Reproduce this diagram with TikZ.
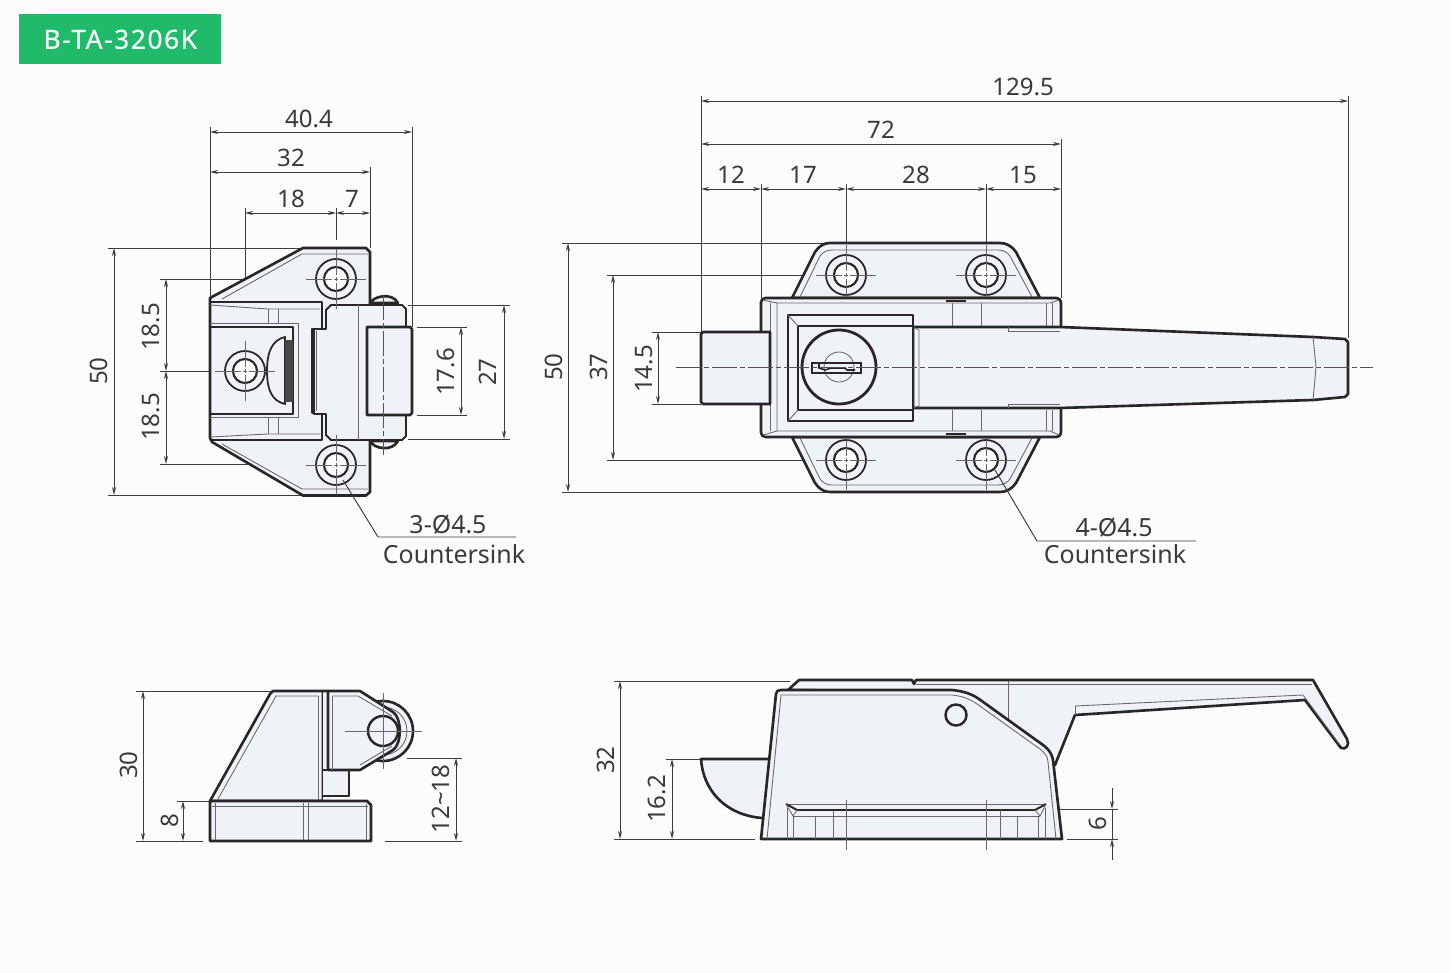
\documentclass[tikz,border=0pt]{standalone}
\usepackage{fontspec}
\setmainfont{Noto Sans}
\usetikzlibrary{arrows.meta}
\definecolor{inkc}{HTML}{2A2627}
\definecolor{partc}{HTML}{EFF3F7}
\definecolor{greenc}{HTML}{1FBB6B}
\definecolor{textc}{HTML}{3A3A3A}
\tikzset{
  partline/.style={draw=inkc,line width=1.5pt,line join=round,fill=partc},
  heavyline/.style={draw=inkc,line width=1.5pt,line join=round},
  thinline/.style={draw=inkc!70,line width=0.5pt},
  extline/.style={draw=inkc!90,line width=0.55pt},
  dimtip/.style={-{Stealth[length=4.6pt,width=2.3pt]}},
  dimline/.style={draw=inkc!90,line width=0.55pt,{Stealth[length=4.6pt,width=2.3pt]}-{Stealth[length=4.6pt,width=2.3pt]}},
  centerline/.style={draw=inkc!80,line width=0.5pt,dash pattern=on 14pt off 2pt on 2.5pt off 2pt},
  dimtext/.style={text=textc,font=\fontsize{13.7}{15}\selectfont,inner sep=0pt},
  dimtextv/.style={dimtext,rotate=90},
  sinktext/.style={text=textc,font=\fontsize{14.2}{16}\selectfont,inner sep=0pt}
}
\newcommand{\boltHole}[2]{
  \draw[draw=inkc,line width=1pt,fill=partc] (#1,#2) circle [radius=20];
  \draw[draw=inkc,line width=1.2pt,fill=white] (#1,#2) circle [radius=12];
  \draw[thinline] (#1-30,#2) -- (#1-4,#2) (#1-2,#2) -- (#1+2,#2) (#1+4,#2) -- (#1+30,#2);
  \draw[thinline] (#1,#2-30) -- (#1,#2-4) (#1,#2-2) -- (#1,#2+2) (#1,#2+4) -- (#1,#2+30);
}
\begin{document}
\begin{tikzpicture}[x=0.02cm,y=-0.02cm]
\useasboundingbox (0,0) rectangle (1450,973);
\fill[white!99!black] (0,0) rectangle (1450,973);

% part number
\node[fill=greenc,text=white,minimum width=4.04cm,minimum height=1cm,inner sep=0pt,anchor=north west,font=\fontsize{15}{16}\selectfont] (tag) at (19,14) {\addfontfeature{LetterSpace=6,FakeBold=0.4}B-TA-3206K};

% left view, extension lines
\draw[extline] (210,127) -- (210,298);
\draw[extline] (412,127) -- (412,327);
\draw[extline] (370,167) -- (370,248);
\draw[extline] (245,208) -- (245,350);
\draw[extline] (336,208) -- (336,240);
\draw[extline] (108,248) -- (303,248);
\draw[extline] (108,495) -- (303,495);
\draw[extline] (160,279) -- (325,279);
\draw[extline] (160,371) -- (210,371);
\draw[extline] (160,464) -- (315,464);
\draw[extline] (408,305) -- (510,305);
\draw[extline] (408,439) -- (510,439);
\draw[extline] (417,327) -- (467,327);
\draw[extline] (417,415) -- (467,415);

% left view
\draw[partline] (210,298) -- (303,248) -- (366,248) -- (370,252) -- (370,492) -- (366,495.5) -- (303,495.5) -- (212,442) -- (210,438) -- cycle;
\draw[thinline] (222,299) -- (302,254) -- (368,254);
\draw[thinline] (222,444) -- (302,489) -- (368,489);
\draw[heavyline] (210,302) -- (322,302) -- (322,329) -- (312,329) -- (312,413) -- (322,413) -- (322,440) -- (210,440);
\draw[heavyline] (210,327) -- (293,327) -- (293,414) -- (210,414);
\draw[thinline] (210,305) -- (268,309) -- (320,309);
\draw[thinline] (210,323) -- (298,323) -- (298,417) -- (210,417);
\draw[thinline] (210,437) -- (268,434) -- (320,434);
\draw[thinline] (268,309) -- (268,323) (278,309) -- (278,323) (268,417) -- (268,434) (278,417) -- (278,434);
\fill[partc] (328,306) rectangle (404,438);
\draw[heavyline,fill=partc] (370,303) .. controls (374,296) and (392,292) .. (398,303) -- cycle;
\draw[heavyline,fill=partc] (370,441) .. controls (374,449) and (392,452) .. (398,441) -- cycle;
\draw[partline,line width=1.1pt] (326,329) -- (326,310) -- (331,305) -- (402,305) -- (406,309) -- (406,436) -- (402,440) -- (331,440) -- (326,435) -- (326,414) -- (314,414) -- (314,329) -- cycle;
\draw[thinline] (316,331) -- (316,411);
\draw[thinline] (358,305) -- (358,440);
\draw[partline] (367,327) -- (410,327) -- (412,329) -- (412,413) -- (410,415) -- (367,415) -- cycle;
\draw[centerline] (383,295) -- (383,455);
\draw[heavyline,line width=1pt,fill=partc] (285,337) .. controls (272,340) and (267,352) .. (267,371) .. controls (267,390) and (272,401) .. (285,404) -- cycle;
\fill[inkc!85] (285,340) rectangle (293,402);
\boltHole{336}{279}
\boltHole{336}{465}
\boltHole{245}{371}

% left view, dimensions
\draw[dimline] (210,132) -- (412,132);
\draw[dimline] (210,172) -- (370,172);
\draw[dimline] (245,213) -- (336,213);
\draw[dimline] (336,213) -- (370,213);
\draw[dimline] (114,248) -- (114,495);
\draw[dimline] (166,279) -- (166,371);
\draw[dimline] (166,371) -- (166,464);
\draw[dimline] (461,327) -- (461,415);
\draw[dimline] (504,305) -- (504,439);
\node[dimtext] (lwidth) at (309,119) {40.4};
\node[dimtext] (lpitch) at (291,158) {32};
\node[dimtext] (lhole) at (291,199) {18};
\node[dimtext] (ledge) at (352,199) {7};
\node[dimtextv] (lheight) at (99,371) {50};
\node[dimtextv] (lupper) at (151,327) {18.5};
\node[dimtextv] (llower) at (151,417) {18.5};
\node[dimtextv] (lbox) at (446,372) {17.6};
\node[dimtextv] (lblock) at (488,372) {27};
\coordinate (lleadA) at (343,480);
\coordinate (lleadB) at (378,537);
\coordinate (lleadC) at (516,537);
\draw[extline] (lleadA) -- (lleadB) -- (lleadC);
\node[sinktext] (lholes) at (448,525) {3-Ø4.5};
\node[sinktext] (lsink) at (454,554) {Countersink};

% right view, extension lines
\draw[extline] (701,96) -- (701,332);
\draw[extline] (1348,96) -- (1348,338);
\draw[extline] (1061,139) -- (1061,298);
\draw[extline] (761,184) -- (761,298);
\draw[extline] (846,184) -- (846,243);
\draw[extline] (986,184) -- (986,243);
\draw[extline] (562,243) -- (830,243);
\draw[extline] (562,492) -- (830,492);
\draw[extline] (607,275) -- (820,275);
\draw[extline] (607,460) -- (820,460);
\draw[extline] (652,332) -- (701,332);
\draw[extline] (652,404) -- (701,404);

% right view
\draw[partline] (792,298) -- (815,252) .. controls (819,246) and (824,243) .. (830,243) -- (1000,243) .. controls (1006,243) and (1012,246) .. (1016,252) -- (1040,298) -- cycle;
\draw[partline] (792,437) -- (815,483) .. controls (819,489) and (824,492) .. (830,492) -- (1000,492) .. controls (1006,492) and (1012,489) .. (1016,483) -- (1040,437) -- cycle;
\draw[thinline] (800,297) -- (820,256) .. controls (823,252) and (827,250) .. (832,250) -- (998,250) .. controls (1003,250) and (1007,252) .. (1010,256) -- (1032,297);
\draw[thinline] (800,438) -- (820,479) .. controls (823,483) and (827,485) .. (832,485) -- (998,485) .. controls (1003,485) and (1007,483) .. (1010,479) -- (1032,438);
\boltHole{846}{275}
\boltHole{986}{275}
\boltHole{846}{460}
\boltHole{986}{460}
\draw[partline,rounded corners=2.5pt] (761,298) rectangle (1061,437);
\draw[thinline] (763,300) -- (777,303) -- (777,431) -- (763,435);
\draw[thinline] (777,303) -- (1050,303) -- (1059,300);
\draw[thinline] (777,431) -- (1050,431) -- (1059,435);
\draw[thinline] (770,303) -- (770,431) (1046,303) -- (1046,326) (1046,410) -- (1046,431) (1052,303) -- (1052,326) (1052,410) -- (1052,431);
\draw[thinline] (952,303) -- (952,326) (981,303) -- (981,326) (952,410) -- (952,431) (981,410) -- (981,431);
\draw[heavyline] (946,301) -- (966,301) (946,434) -- (966,434);
\draw[partline] (701,334) -- (703,332) -- (770,332) -- (770,404) -- (703,404) -- (701,402) -- cycle;
\draw[partline] (913,327) -- (1060,327) -- (1313,337) -- (1345,339) -- (1348,342) -- (1348,394) -- (1345,397) -- (1313,400) -- (1060,408) -- (913,408) -- cycle;
\draw[thinline] (1313,337) -- (1316,367) -- (1313,400);
\draw[thinline] (919,330) -- (919,406) (913,327) -- (919,330) (913,408) -- (919,406);
\draw[thinline] (1008,327) -- (1008,331) -- (1060,331);
\draw[thinline] (1008,408) -- (1008,404) -- (1060,404);
\draw[partline] (788,315) rectangle (913,421);
\draw[heavyline] (798,326) -- (913,326) (798,410) -- (913,410) (798,326) -- (798,410);
\draw[thinline] (788,315) -- (798,326) (788,421) -- (798,410);
\draw[draw=inkc,line width=1.6pt,fill=partc] (839,367) circle [radius=37];
\draw[thinline] (839,367) circle [radius=15];
\draw[draw=inkc,line width=0.9pt] (812,363) rectangle (861,373);
\draw[draw=inkc,line width=0.9pt] (819,364) -- (819,368) -- (825,370) -- (831,368) -- (845,368) -- (847,370) -- (855,370);
\draw[centerline] (676,367) -- (1373,367);

% right view, dimensions
\draw[dimline] (701,101) -- (1348,101);
\draw[dimline] (701,144) -- (1061,144);
\draw[dimline] (701,189) -- (761,189);
\draw[dimline] (761,189) -- (846,189);
\draw[dimline] (846,189) -- (986,189);
\draw[dimline] (986,189) -- (1061,189);
\draw[dimline] (568,243) -- (568,492);
\draw[dimline] (613,275) -- (613,460);
\draw[dimline] (658,332) -- (658,404);
\node[dimtext] (rtotal) at (1023,87) {129.5};
\node[dimtext] (rbody) at (881,130) {72};
\node[dimtext] (rbolt) at (731,175) {12};
\node[dimtext] (redge) at (803,175) {17};
\node[dimtext] (rpitch) at (916,175) {28};
\node[dimtext] (rback) at (1023,175) {15};
\node[dimtextv] (rheight) at (554,367) {50};
\node[dimtextv] (rholes) at (599,367) {37};
\node[dimtextv] (rthick) at (644,369) {14.5};
\coordinate (rleadA) at (995,470);
\coordinate (rleadB) at (1037,541);
\coordinate (rleadC) at (1196,541);
\draw[extline] (rleadA) -- (rleadB) -- (rleadC);
\node[sinktext] (rcount) at (1114,528) {4-Ø4.5};
\node[sinktext] (rsink) at (1115,554) {Countersink};

% lower left view
\draw[extline] (136,691) -- (272,691);
\draw[extline] (136,841) -- (203,841);
\draw[extline] (177,801) -- (210,801);
\draw[extline] (385,841) -- (462,841);
\draw[extline] (407,758) -- (462,758);
\draw[draw=inkc,line width=1.5pt,fill=partc] (383,731) circle [radius=30];
\draw[thinline] (383,731) circle [radius=24];
\draw[partline] (210,801) -- (270,694) -- (273,691) -- (323,691) -- (323,801) -- cycle;
\draw[thinline] (218,799) -- (276,696) -- (318,696);
\draw[thinline] (318,696) -- (318,801);
\fill[partc] (323,691) rectangle (330,801);
\draw[partline] (323,770) -- (349,770) -- (349,796) -- (323,796);
\fill[partc] (323,771) rectangle (348,795);
\draw[partline] (323,691) -- (360,691) -- (393,712) .. controls (402,718) and (402,744) .. (393,750) -- (360,770) -- (328,770) -- (328,691);
\draw[thinline] (332,696) -- (358,696) -- (392,716);
\draw[thinline] (332,696) -- (332,770);
\draw[thinline] (360,765) -- (392,746);
\draw[partline] (210,801) -- (367,801) -- (371,805) -- (371,841) -- (210,841) -- cycle;
\draw[thinline] (212,806) -- (368,806);
\draw[thinline] (215,803) -- (215,840);
\draw[thinline] (303,803) -- (303,840) (308,803) -- (308,840) (366,804) -- (366,840);
\draw[draw=inkc,line width=1.4pt,fill=partc] (383,731) circle [radius=15];
\draw[thinline] (345,731) -- (422,731) (383,693) -- (383,769);
\draw[thinline] (379,731) -- (387,731) (383,727) -- (383,735);
\draw[dimline] (143,691) -- (143,841);
\draw[dimline] (183,801) -- (183,841);
\draw[dimline] (456,758) -- (456,841);
\node[dimtextv] (sheight) at (129,765) {30};
\node[dimtextv] (sbase) at (170,821) {8};
\node[dimtextv] (sgap) at (441,799) {12\textasciitilde 18};

% lower right view
\draw[extline] (614,681) -- (790,681);
\draw[extline] (614,839) -- (755,839);
\draw[extline] (666,759) -- (700,759);
\draw[extline] (1046,809) -- (1118,809);
\draw[extline] (1067,839) -- (1118,839);
\draw[partline] (701,759) -- (772,759) -- (772,818) -- (762,818) .. controls (725,815) and (703,790) .. (701,759) -- cycle;
\draw[partline] (788,690) -- (799,680) -- (912,680) -- (914,684) -- (916,680) -- (1313,680) -- (1347,739) .. controls (1350,745) and (1346,750) .. (1341,748) -- (1305,700) -- (1075,715) -- (1055,765) -- (1040,745) -- (960,692) -- cycle;
\draw[thinline] (916,684) -- (1312,684);
\draw[thinline] (1075,706) -- (1303,695) -- (1340,745);
\draw[thinline] (1075,706) -- (1075,715);
\draw[thinline] (1008,681) -- (1008,722);
\draw[partline] (761,839) -- (776,694) .. controls (776,691) and (778,690) .. (781,690) -- (952,690) .. controls (963,691) and (972,694) .. (979,699) -- (1043,745) .. controls (1050,750) and (1052,755) .. (1053,760) -- (1062,839) -- cycle;
\draw[thinline] (767,839) -- (781,695) -- (952,695) .. controls (962,696) and (970,699) .. (977,704) -- (1040,749) .. controls (1045,753) and (1048,757) .. (1048,762) -- (1056,839);
\draw[draw=inkc,line width=1.4pt] (956,715) circle [radius=10.5];
\draw[thinline] (786,804) -- (1046,804);
\draw[heavyline,line width=1.1pt] (786,804) -- (797,810) -- (1035,810) -- (1046,804);
\draw[thinline] (793,816) -- (1040,816);
\draw[thinline] (786,804) -- (793,816) -- (797,810) (1046,804) -- (1040,816) -- (1035,810);
\draw[thinline] (787,808) -- (787,839) (793,816) -- (793,839) (815,816) -- (815,839) (833,810) -- (833,839) (1000,810) -- (1000,839) (1017,816) -- (1017,839) (1038,816) -- (1038,839) (1045,808) -- (1045,839);
\draw[thinline] (846,800) -- (846,850) (986,800) -- (986,850);
\draw[dimline] (620,681) -- (620,839);
\draw[dimline] (672,759) -- (672,839);
\draw[extline,dimtip] (1112,788) -- (1112,809);
\draw[extline,dimtip] (1112,860) -- (1112,839);
\draw[extline] (1112,809) -- (1112,839);
\node[dimtextv] (bheight) at (606,760) {32};
\node[dimtextv] (bbolt) at (657,799) {16.2};
\node[dimtextv] (brecess) at (1098,824) {6};
\end{tikzpicture}
\end{document}
